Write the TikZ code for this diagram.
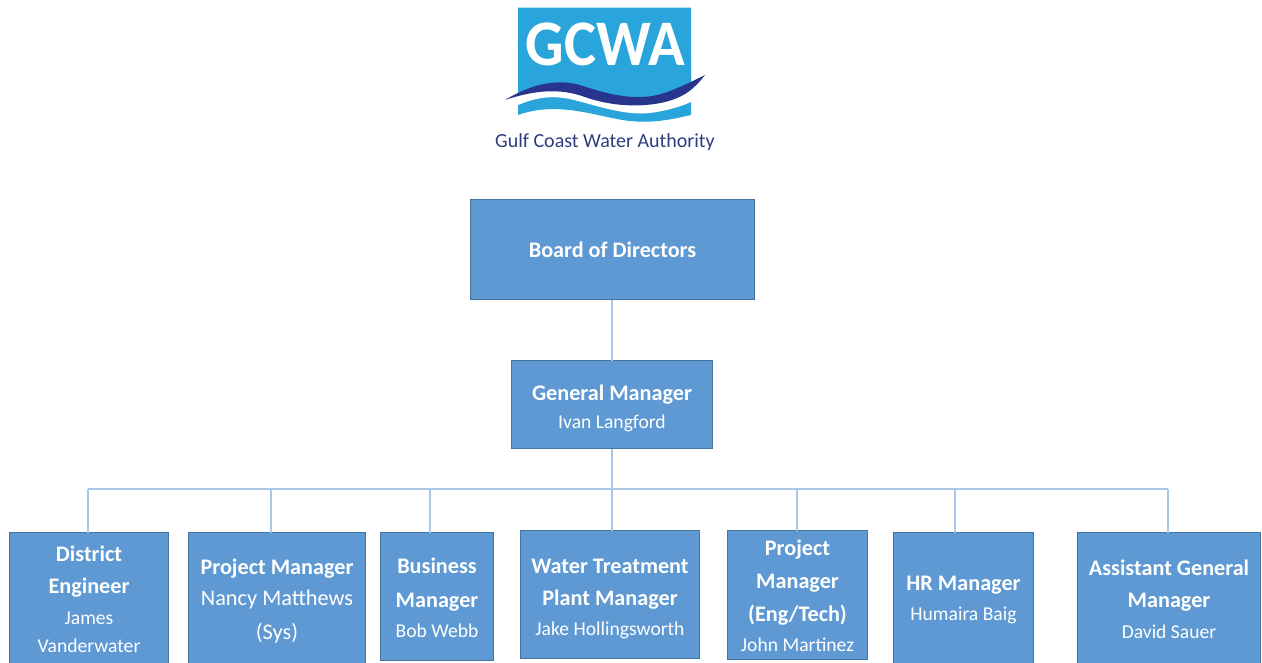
\documentclass[tikz,border=0pt]{standalone}
\usepackage{fontspec}
\setmainfont{Carlito}
\definecolor{boxfill}{HTML}{5E99D3}
\definecolor{boxline}{HTML}{44739F}
\definecolor{conn}{HTML}{A9C7E8}
\definecolor{logoblue}{HTML}{29A5DC}
\definecolor{logonavy}{HTML}{27358C}
\definecolor{tagline}{HTML}{2F3C7E}
\newcommand{\rolefont}{\fontsize{22.2}{31}\selectfont\bfseries}
\newcommand{\namefont}{\fontsize{19.6}{31}\selectfont}
\newcommand{\bignamefont}{\fontsize{22.3}{31}\selectfont}
\tikzset{
  x=1pt,y=-1pt,
  orgbox/.style={draw=boxline,line width=1.2pt,fill=boxfill,inner sep=0pt,outer sep=0pt},
  boxtext/.style={text=white,align=center,inner sep=0pt,font=\fontsize{20}{31}\selectfont},
  link/.style={draw=conn,line width=1.2pt},
}
\newcommand{\orgnode}[7]{% name, x1, y1, x2, y2, text centre y, text
  \node[orgbox,minimum width=#4pt-#2pt-1pt,minimum height=#5pt-#3pt-1pt] (#1) at ({(#2+#4)/2},{(#3+#5)/2}) {};
  \node[boxtext] (#1t) at ({(#2+#4)/2},#6) {#7};
}
\begin{document}
\begin{tikzpicture}
\useasboundingbox (0,0) rectangle (1262,662);
\clip (0,0) rectangle (1262,662);
% logo
\fill[logoblue] (518,7.5) -- (691,7.5) -- (691,115) .. controls (665,121) and (650,123) .. (630,121) .. controls (600,118) and (560,100) .. (518,115) -- cycle;
\fill[white] (518,105) .. controls (535,98) and (550,95) .. (570,99) .. controls (595,105) and (625,116) .. (650,113) .. controls (665,111) and (680,107) .. (691,102) -- (691,90) -- (518,90) -- cycle;
\fill[logoblue] (518,60) -- (691,60) -- (691,85) .. controls (680,91) and (650,100) .. (620,97) .. controls (590,90) and (560,78) .. (518,93) -- cycle;
\fill[logonavy] (505,100) .. controls (530,85) and (555,78) .. (580,85) .. controls (610,95) and (640,103) .. (670,91) .. controls (685,85) and (695,80) .. (705,75) .. controls (695,88) and (685,97) .. (665,102) .. controls (640,108) and (610,106) .. (585,97) .. controls (560,88) and (535,90) .. (505,100) -- cycle;
\node[text=white,inner sep=0pt,font=\fontsize{65}{65}\selectfont\bfseries] (logoname) at (605.5,44) {\scalebox{.93}[1]{GCWA}};
\node[text=tagline,inner sep=0pt,font=\fontsize{20}{24}\selectfont] (tag) at (605,142.5) {Gulf Coast Water Authority};
% boxes
\orgnode{board}{470}{199}{755}{300}{249.5}{\rolefont Board of Directors}
\orgnode{gm}{511}{360}{713}{449}{408}{{\rolefont General Manager}\\[-3pt]{\namefont Ivan Langford}}
\orgnode{de}{9}{532}{169}{675}{599}{{\rolefont District}\\[1pt]{\rolefont Engineer}\\{\namefont James}\\[-3pt]{\namefont Vanderwater}}
\orgnode{pm}{188}{532}{366}{675}{600.5}{{\rolefont Project Manager}\\{\bignamefont Nancy Matthews}\\[3pt]{\bignamefont (Sys)}}
\orgnode{bm}{380}{532}{494}{661}{598}{{\rolefont Business}\\[3pt]{\rolefont Manager}\\[-1pt]{\namefont Bob Webb}}
\orgnode{wt}{520}{530}{700}{659}{598.5}{{\rolefont Water Treatment}\\[1pt]{\rolefont Plant Manager}\\[-1pt]{\namefont Jake Hollingsworth}}
\orgnode{pe}{727}{530}{868}{660}{596}{{\rolefont Project}\\[2pt]{\rolefont Manager}\\[2pt]{\rolefont (Eng/Tech)}\\[-1pt]{\namefont John Martinez}}
\orgnode{hr}{893}{532}{1034}{675}{599.5}{{\rolefont HR Manager}\\[-1pt]{\namefont Humaira Baig}}
\orgnode{ag}{1077}{532}{1261}{675}{599}{{\rolefont Assistant General}\\[1pt]{\rolefont Manager}\\{\namefont David Sauer}}
% connectors
\coordinate (busd) at (88,489);
\coordinate (busp) at (271,489);
\coordinate (busb) at (430,489);
\coordinate (busw) at (612,489);
\coordinate (buse) at (797,489);
\coordinate (bush) at (955,489);
\coordinate (busa) at (1168,489);
\draw[link] (board.south -| busw) -- (gm.north -| busw);
\draw[link] (gm.south -| busw) -- (busw);
\draw[link] (busd) -- (busa);
\draw[link] (busd) -- (busd |- de.north);
\draw[link] (busp) -- (busp |- pm.north);
\draw[link] (busb) -- (busb |- bm.north);
\draw[link] (busw) -- (busw |- wt.north);
\draw[link] (buse) -- (buse |- pe.north);
\draw[link] (bush) -- (bush |- hr.north);
\draw[link] (busa) -- (busa |- ag.north);
\end{tikzpicture}
\end{document}
